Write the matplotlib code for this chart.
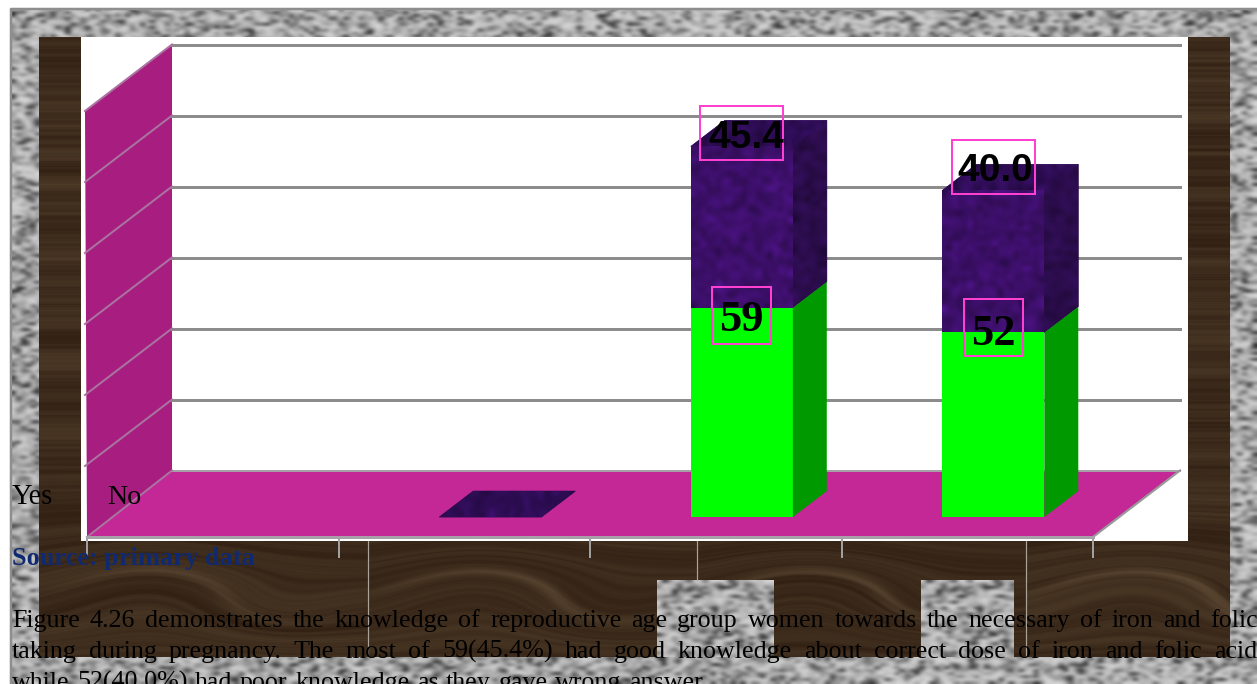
import numpy as np
import matplotlib
matplotlib.use("Agg")
import matplotlib.pyplot as plt
from matplotlib.patches import Polygon, Rectangle

# Knowledge of iron and folic acid dose: counts and percentages per group
group_slots = [0, 1, 2, 3]
counts = [np.nan, 0, 59, 52]
percents = [np.nan, 0, 45.4, 40.0]
grid_values = [0, 20, 40, 60, 80, 100, 120]
legend_words = ["Yes", "No"]
source_note = "Source: primary data"
body_lines = [
    "Figure 4.26 demonstrates the knowledge of reproductive age group women towards the necessary of iron and folic",
    "taking during pregnancy. The most of 59(45.4%) had good knowledge about correct dose of iron and folic acid",
    "while 52(40.0%) had poor knowledge as they gave wrong answer.",
]

W, H = 1257, 684
PX_PER_SLOT = 251.5
PX_PER_VALUE = 3.55
DEPTH_X = 87 / PX_PER_SLOT
BACK_LEFT = 85 / PX_PER_SLOT
DEPTH_Y = 66.5 / PX_PER_VALUE
BAR_WIDTH = 102 / PX_PER_SLOT
BAR_FRONT = 0.30
BAR_BACK = 0.69

WALL = "#A81E80"
FLOOR = "#C42796"
GRID = "#8C8C8C"
WALL_LINE = "#A9749F"
GREEN = "#00FF00"
GREEN_SIDE = "#009A00"
PINK = "#FF40D0"

rng = np.random.default_rng(426)
plt.rcParams["font.family"] = ["Liberation Serif", "DejaVu Serif"]


def px(v):
    """Line width in points for a width given in pixels."""
    return v * 0.72


def granite(h, w):
    """Speckled grey stone surface."""
    n = rng.normal(size=(h, w))
    return np.clip(0.84 - 0.27 * np.abs(n) ** 1.4, 0.15, 1)


def wood_tile(height, width):
    """One dark wood plank with horizontal grain and a pale swirl."""
    yy, xx = np.mgrid[0:height, 0:width]
    fine = np.convolve(rng.normal(size=height + 200), np.ones(3) / 3, mode="same")
    coarse = np.convolve(rng.normal(size=height + 200), np.ones(15) / 15, mode="same") * 3
    profile = 0.09 + 0.05 * fine + 0.05 * coarse
    warp = 34 * np.exp(-((xx - 110) / 110.0) ** 2 - ((yy - 545) / 55.0) ** 2)
    warp -= 18 * np.exp(-((xx - 240) / 70.0) ** 2 - ((yy - 570) / 30.0) ** 2)
    t = np.interp(yy + warp + 40, np.arange(profile.size), profile)
    arc = ((yy + warp * 1.2 - 572) / 6.0) ** 2
    t = t + 0.2 * np.exp(-arc) * (0.3 + 0.7 * np.sin(xx / width * np.pi))
    t = np.clip(t, 0, 1)[..., None]
    dark = np.array([0.20, 0.135, 0.08])
    light = np.array([0.62, 0.52, 0.40])
    return dark + t * (light - dark)


fig = plt.figure(figsize=(W / 100, H / 100), dpi=100, facecolor="white")

# Page backdrop, addressed in pixels from the top-left corner
bg = fig.add_axes([0, 0, 1, 1], zorder=0)
bg.set_xlim(0, W)
bg.set_ylim(H, 0)
bg.axis("off")

stone = granite(H // 3, W // 5)
bg.imshow(stone, extent=(11, W, H, 8), cmap="gray", vmin=0, vmax=1,
          aspect="auto", interpolation="bicubic", zorder=1)
for x0 in (39, 368, 697, 1026):
    x1 = min(x0 + 329, 1230)
    tile = wood_tile(620, 329)
    bg.imshow(tile[:, : x1 - x0], extent=(x0, x1, 657, 37), aspect="auto",
              interpolation="bilinear", zorder=2)
for x0, x1 in ((657, 774), (921, 1014)):
    swatch = stone[40:66, 20:20 + (x1 - x0) // 5]
    bg.imshow(swatch, extent=(x0, x1, 657, 580), cmap="gray", vmin=0, vmax=1,
              aspect="auto", interpolation="bicubic", zorder=3)
for seam in (368, 697, 1026):
    bg.plot([seam, seam], [541, 657 if seam != 697 else 580], color="#A9A39A",
            lw=px(1.2), zorder=3)
bg.plot([11, 11, W], [H, 9, 9], color="#8E8E8E", lw=px(2.5), zorder=4)
bg.add_patch(Rectangle((81, 37), 1107, 504, fc="white", ec="none", zorder=5))
bg.set_xlim(0, W)
bg.set_ylim(H, 0)

# Chart axes: slots along x, values along y, front plane of the 3-D box
ax = fig.add_axes([87 / W, 1 - 537 / H, 1006 / W, 426 / H], zorder=1)
ax.patch.set_visible(False)
ax.set_xlim(0, 4)
ax.set_ylim(0, 120)


def shape(points, **kw):
    ax.add_patch(Polygon(points, closed=True, clip_on=False, **kw))


def textured(points, base, zorder):
    """Fill a polygon with softly mottled violet."""
    shape(points, fc=base, ec=base, lw=px(0.8), zorder=zorder - 0.1)
    clip = Polygon(points, closed=True, transform=ax.transData, fc="none", ec="none")
    ax.add_patch(clip)
    xs = [p[0] for p in points]
    ys = [p[1] for p in points]
    noise = rng.normal(size=(max(int((max(ys) - min(ys)) * PX_PER_VALUE / 5), 3),
                             max(int((max(xs) - min(xs)) * PX_PER_SLOT / 5), 3), 1))
    img = np.clip(np.array(base) * (1 + 0.16 * noise), 0, 1)
    im = ax.imshow(img, extent=(min(xs), max(xs), min(ys), max(ys)), aspect="auto",
                   interpolation="bicubic", zorder=zorder)
    im.set_clip_path(clip)
    im.set_clip_on(True)


top_value = grid_values[-1]
shape([(0, 0), (BACK_LEFT, DEPTH_Y), (BACK_LEFT, DEPTH_Y + top_value), (-0.008, top_value)],
      fc=WALL, ec="none", zorder=1)
shape([(0, 0), (4, 0), (4 + DEPTH_X, DEPTH_Y), (BACK_LEFT, DEPTH_Y)],
      fc=FLOOR, ec="none", zorder=1)
ax.plot([4, 4 + DEPTH_X], [0, DEPTH_Y], color="#999999", lw=px(2.2), clip_on=False, zorder=1.5)

for g in grid_values:
    ax.plot([-0.008 if g else 0, BACK_LEFT], [g, g + DEPTH_Y], color=WALL_LINE, lw=px(2),
            clip_on=False, zorder=1.5)
    ax.plot([BACK_LEFT, 4 + DEPTH_X], [g + DEPTH_Y, g + DEPTH_Y],
            color=GRID if g else "#A8A0A8", lw=px(3 if g else 2), clip_on=False, zorder=1.2)

violet_front = (0.235, 0.06, 0.41)
violet_side = (0.17, 0.05, 0.30)
violet_top = (0.18, 0.05, 0.33)

for slot, c, p in zip(group_slots, counts, percents):
    if np.isnan(c):
        continue
    x0 = slot + 0.5 - BAR_WIDTH / 2 + BAR_FRONT * DEPTH_X
    x1 = x0 + BAR_WIDTH
    y0 = BAR_FRONT * DEPTH_Y
    sx = (BAR_BACK - BAR_FRONT) * DEPTH_X
    sy = (BAR_BACK - BAR_FRONT) * DEPTH_Y
    total = c + p
    if c > 0:
        shape([(x0, y0), (x1, y0), (x1, y0 + c), (x0, y0 + c)], fc=GREEN, ec="none", zorder=3)
        shape([(x1, y0), (x1 + sx, y0 + sy), (x1 + sx, y0 + sy + c), (x1, y0 + c)],
              fc=GREEN_SIDE, ec="none", zorder=3)
        textured([(x0, y0 + c), (x1, y0 + c), (x1, y0 + total), (x0, y0 + total)], violet_front, 3)
        textured([(x1, y0 + c), (x1 + sx, y0 + sy + c), (x1 + sx, y0 + sy + total), (x1, y0 + total)],
                 violet_side, 3)
    textured([(x0, y0 + total), (x1, y0 + total), (x1 + sx, y0 + sy + total), (x0 + sx, y0 + sy + total)],
             violet_top, 3)

ax.set_xlim(0, 4)
ax.set_ylim(0, 120)

# Value labels sit in pink frames, nudged off the bar tops
label_rows = [
    (2, percents[2], counts[2] + percents[2], 13.4, 83, 54, 8.5, "Liberation Sans", 28, 4),
    (3, percents[3], counts[3] + percents[3], 23.4, 83, 54, 19.5, "Liberation Sans", 28, 2),
    (2, counts[2], counts[2], -7.5, 59, 57, -12, "Liberation Serif", 32, -0.5),
    (3, counts[3], counts[3], 4.5, 59, 57, -1.5, "Liberation Serif", 32, -0.5),
]
for slot, shown, stack, up, bw, bh, text_up, family, size, shift in label_rows:
    cx = slot + 0.5 + BAR_FRONT * DEPTH_X
    cy = BAR_FRONT * DEPTH_Y + stack + up / PX_PER_VALUE
    ax.add_patch(Rectangle((cx - bw / 2 / PX_PER_SLOT, cy - bh / 2 / PX_PER_VALUE),
                           bw / PX_PER_SLOT, bh / PX_PER_VALUE, fc="none", ec=PINK,
                           lw=px(2), clip_on=False, zorder=5))
    text = f"{shown:.1f}" if family == "Liberation Sans" else f"{shown:.0f}"
    ax.text(cx + shift / PX_PER_SLOT, BAR_FRONT * DEPTH_Y + stack + text_up / PX_PER_VALUE, text,
            family=family, fontweight="bold", fontsize=size, color="black",
            ha="center", va="center", zorder=6, clip_on=False)

ax.set_xticks(range(5))
ax.set_xticklabels([])
ax.set_yticks([])
ax.tick_params(axis="x", length=px(21), width=px(2), color="#A0A0A0", direction="out")
for name, spine in ax.spines.items():
    spine.set_visible(name == "bottom")
ax.spines["bottom"].set_color("#A8A0A8")
ax.spines["bottom"].set_linewidth(px(3))

# Running page text printed over the chart
pg = fig.add_axes([0, 0, 1, 1], zorder=2)
pg.set_xlim(0, W)
pg.set_ylim(H, 0)
pg.axis("off")
pg.patch.set_visible(False)

body_size = px(26)
pg.text(12, 504, legend_words[0], fontsize=px(28.5), color="black", va="baseline")
pg.text(107, 504, legend_words[1], fontsize=px(28), color="black", va="baseline")
pg.text(12, 565, source_note, fontsize=px(26.4), fontweight="bold", color="#0F2A70", va="baseline")

renderer = fig.canvas.get_renderer()


def justified(line, baseline, left, right):
    """Set one line word by word, spreading the gaps to fill the measure."""
    words = line.split(" ")
    items = [pg.text(left, baseline, w, fontsize=body_size, color="black", va="baseline",
                     clip_on=True) for w in words]
    widths = [t.get_window_extent(renderer).width for t in items]
    gap = (right - left - sum(widths)) / (len(words) - 1)
    x = left
    for t, wd in zip(items, widths):
        t.set_x(x)
        x += wd + gap


justified(body_lines[0], 627, 12, 1258)
justified(body_lines[1], 658, 12, 1257)
justified(body_lines[2], 689, 12, 708)

fig.savefig("out.png", dpi=100)
